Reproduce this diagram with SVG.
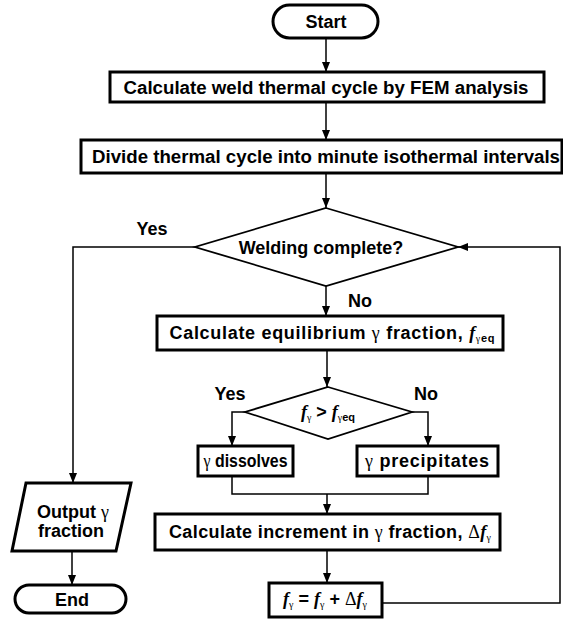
<svg xmlns="http://www.w3.org/2000/svg" width="563" height="621" viewBox="0 0 563 621">
<style>
.box{fill:#fff;stroke:#000;stroke-width:3}
.dia{fill:#fff;stroke:#000;stroke-width:1.8}
.ln{fill:none;stroke:#000;stroke-width:1.5}
.t{font-family:"Liberation Sans",Arial,sans-serif;font-weight:bold;font-size:18px;text-anchor:middle;fill:#000}
.g{font-family:"Liberation Serif","Times New Roman",serif;font-weight:normal}
.fi{font-family:"Liberation Serif","Times New Roman",serif;font-style:italic;font-weight:bold}
.sub{font-size:11px}
.sg{font-size:10px}
</style>
<defs>
<marker id="ah" markerUnits="userSpaceOnUse" markerWidth="10" markerHeight="8" refX="10" refY="4" orient="auto">
<path d="M0,0 L10,4 L0,8 z" fill="#000"/>
</marker>
</defs>
<rect width="563" height="621" fill="#fff"/>
<g id="connectors">
<path class="ln" d="M326,38 V72" marker-end="url(#ah)"/>
<path class="ln" d="M326,102 V140" marker-end="url(#ah)"/>
<path class="ln" d="M326,173 V208" marker-end="url(#ah)"/>
<path class="ln" d="M326,286 V316" marker-end="url(#ah)"/>
<path class="ln" d="M327,350 V387" marker-end="url(#ah)"/>
<path class="ln" d="M245,412 H232 V446" marker-end="url(#ah)"/>
<path class="ln" d="M412,412 H428 V446" marker-end="url(#ah)"/>
<path class="ln" d="M232,476 V494 H428 V476"/>
<path class="ln" d="M327,494 V514" marker-end="url(#ah)"/>
<path class="ln" d="M327,550 V583" marker-end="url(#ah)"/>
<path class="ln" d="M382,603 H560 V247 H458" marker-end="url(#ah)"/>
<path class="ln" d="M195,247 H73 V483" marker-end="url(#ah)"/>
<path class="ln" d="M72,551 V585" marker-end="url(#ah)"/>
</g>
<g id="start">
<rect class="box" x="273" y="5" width="105" height="33" rx="16.5"/>
<text class="t" x="326" y="28">Start</text>
</g>
<g id="fem">
<rect class="box" x="110" y="72" width="434" height="30"/>
<text class="t" x="326" y="93.5" textLength="405" lengthAdjust="spacingAndGlyphs">Calculate weld thermal cycle by FEM analysis</text>
</g>
<g id="divide">
<rect class="box" x="81" y="140" width="481" height="33"/>
<text class="t" x="326" y="163" textLength="468" lengthAdjust="spacingAndGlyphs">Divide thermal cycle into minute isothermal intervals</text>
</g>
<g id="welding">
<polygon class="dia" points="326,208 458,247 326,286 195,247"/>
<text class="t" x="321" y="254">Welding complete?</text>
</g>
<text class="t" x="152" y="235">Yes</text>
<text class="t" x="360" y="307">No</text>
<g id="equil">
<rect class="box" x="157" y="316" width="346" height="34"/>
<text class="t" x="332" y="339" textLength="325">Calculate equilibrium <tspan class="g">γ</tspan> fraction, <tspan class="fi">f</tspan><tspan class="g sg" dy="3">γ</tspan><tspan class="sub">eq</tspan></text>
</g>
<g id="compare">
<polygon class="dia" points="328,387 412,412 328,439 245,412"/>
<text class="t" x="328" y="418"><tspan class="fi">f</tspan><tspan class="g sg" dy="3">γ</tspan><tspan dy="-3"> &gt; </tspan><tspan class="fi">f</tspan><tspan class="g sg" dy="3">γ</tspan><tspan class="sub">eq</tspan></text>
</g>
<text class="t" x="230" y="400">Yes</text>
<text class="t" x="426" y="400">No</text>
<g id="dissolves">
<rect class="box" x="198" y="446" width="95" height="30"/>
<text class="t" x="245.5" y="467" textLength="84" lengthAdjust="spacingAndGlyphs"><tspan class="g">γ</tspan> dissolves</text>
</g>
<g id="precipitates">
<rect class="box" x="357" y="446" width="141" height="30"/>
<text class="t" x="427" y="467" textLength="124"><tspan class="g">γ</tspan> precipitates</text>
</g>
<g id="increment">
<rect class="box" x="155" y="514" width="345" height="36"/>
<text class="t" x="330" y="538" textLength="322">Calculate increment in <tspan class="g">γ</tspan> fraction, <tspan class="g">Δ</tspan><tspan class="fi">f</tspan><tspan class="g sg" dy="3">γ</tspan></text>
</g>
<g id="update">
<rect class="box" x="269" y="583" width="113" height="34"/>
<text class="t" x="325" y="605"><tspan class="fi">f</tspan><tspan class="g sg" dy="3">γ</tspan><tspan dy="-3"> = </tspan><tspan class="fi">f</tspan><tspan class="g sg" dy="3">γ</tspan><tspan dy="-3"> + </tspan><tspan class="g">Δ</tspan><tspan class="fi">f</tspan><tspan class="g sg" dy="3">γ</tspan></text>
</g>
<g id="output">
<polygon class="box" points="26,483 131,483 116,551 12,551"/>
<text class="t" x="73" y="518">Output <tspan class="g">γ</tspan></text>
<text class="t" x="71" y="537">fraction</text>
</g>
<g id="end">
<rect class="box" x="15" y="585" width="111" height="28" rx="14"/>
<text class="t" x="72" y="606">End</text>
</g>
</svg>
